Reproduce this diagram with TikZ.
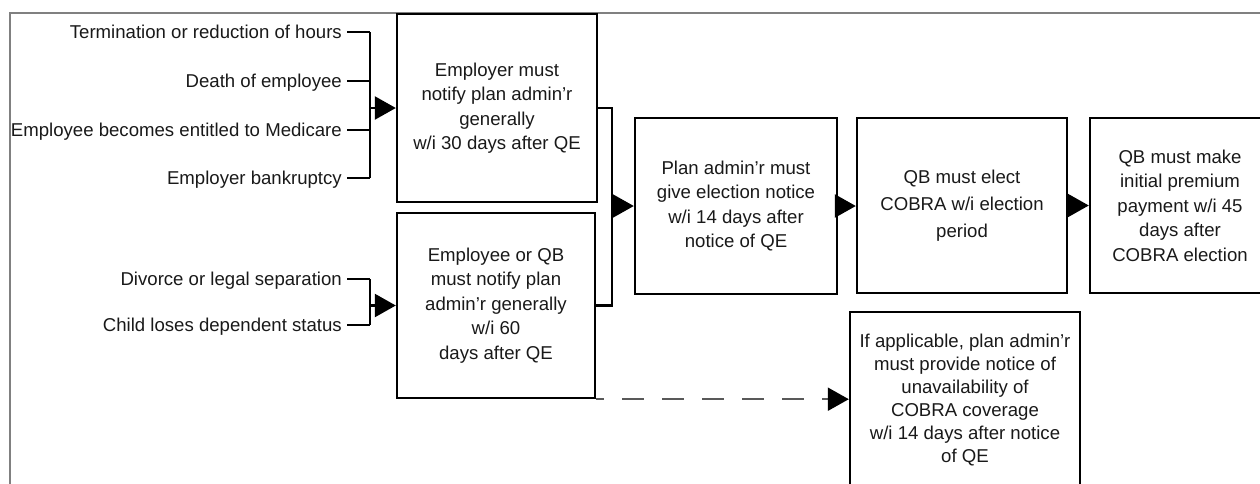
\documentclass[tikz,border=0pt]{standalone}
\usepackage{fontspec}
\setmainfont{Liberation Sans}
\usetikzlibrary{arrows.meta}
\begin{document}
\begin{tikzpicture}[x=1pt,y=-1pt,
  box/.style={draw=black, line width=2.4pt, inner sep=0pt, align=center, text=black!90,
    font=\fontsize{18.6}{24.5}\selectfont},
  lbl/.style={anchor=east, inner xsep=5pt, inner ysep=0pt, text height=13.5pt, text depth=0pt,
    text=black!90, font=\fontsize{18.6}{22}\selectfont},
  wire/.style={line width=2.4pt, draw=black},
  arr/.style={wire, -{Triangle[length=21pt,width=23pt]}},
]
\useasboundingbox (0,0) rectangle (1260,483);
\clip (0,0) rectangle (1260,483);
\draw[draw=black!50, line width=2pt] (10,13) rectangle (1280,500);

% trigger labels
\node[lbl] (l1) at (347,32) {Termination or reduction of hours};
\node[lbl] (l2) at (347,81) {Death of employee};
\node[lbl] (l3) at (347,130) {Employee becomes entitled to Medicare};
\node[lbl] (l4) at (347,178) {Employer bankruptcy};
\node[lbl] (l5) at (347,279) {Divorce or legal separation};
\node[lbl] (l6) at (347,325) {Child loses dependent status};
\coordinate (bx) at (370,0);
\coordinate (m) at (612,0);

% boxes
\node[box, minimum width=200pt, minimum height=188pt] (A) at (497,108)
  {Employer must\\notify plan admin'r\\generally\\w/i 30 days after QE};
\node[box, minimum width=198pt, minimum height=185pt] (B) at (496,305.5)
  {Employee or QB\\must notify plan\\admin'r generally\\w/i 60\\days after QE};
\node[box, minimum width=202pt, minimum height=176pt] (C) at (736,206)
  {Plan admin'r must\\give election notice\\w/i 14 days after\\notice of QE};
\node[box, minimum width=210pt, minimum height=175pt, font=\fontsize{18.6}{27}\selectfont] (D) at (962,205.5)
  {QB must elect\\COBRA w/i election\\period};
\node[box, minimum width=180pt, minimum height=175pt] (E) at (1180,205.5)
  {QB must make\\initial premium\\payment w/i 45\\days after\\COBRA election};
\node[box, minimum width=230pt, minimum height=176pt, font=\fontsize{18.6}{23}\selectfont] (F) at (965,400)
  {If applicable, plan admin'r\\must provide notice of\\unavailability of\\COBRA coverage\\w/i 14 days after notice\\of QE};

% bracket 1
\foreach \n in {l1,l2,l3,l4} \draw[wire] (\n.east) -- (\n.east -| bx);
\draw[wire] (l1.east -| bx) -- (l4.east -| bx);
\draw[arr] (bx |- A.west) -- (A.west);

% bracket 2
\foreach \n in {l5,l6} \draw[wire] (\n.east) -- (\n.east -| bx);
\draw[wire] (l5.east -| bx) -- (l6.east -| bx);
\draw[arr] (bx |- B.west) -- (B.west);

% bracket 3
\draw[wire] (A.east) -- (A.east -| m) -- (B.east -| m) -- (B.east);
\draw[arr] (m |- C.west) -- (C.west);

\draw[arr] (C.east) -- (C.east -| D.west);
\draw[arr] (D.east) -- (D.east -| E.west);

% dashed
\draw[line width=2.2pt, draw=black!65, dash pattern=on 22pt off 18pt, dash phase=14pt,
  -{Triangle[length=21pt,width=23pt,color=black]}] (B.south east) -- (B.south east -| F.west);
\end{tikzpicture}
\end{document}
